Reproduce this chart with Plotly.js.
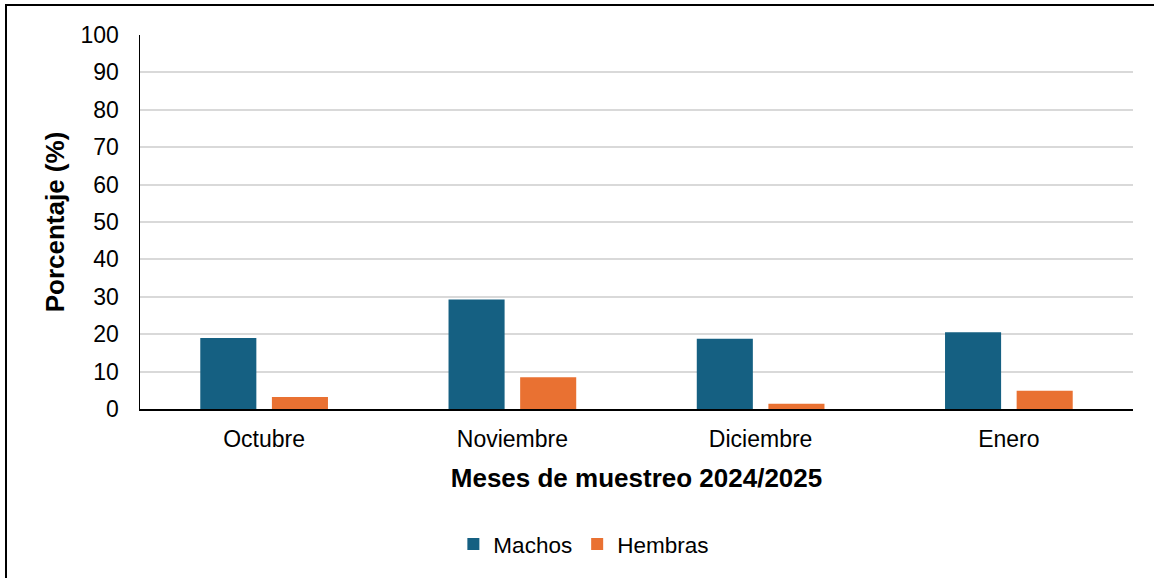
<!DOCTYPE html>
<html>
<head>
<meta charset="utf-8">
<script src="https://cdn.plot.ly/plotly-3.0.1.min.js"></script>
<style>
  html, body { margin: 0; padding: 0; background: #fff; }
  #wrap { position: relative; width: 1154px; height: 578px; overflow: hidden; }
  #chart { width: 1154px; height: 578px; }
  #frame { position: absolute; left: 5px; top: 4px; width: 1200px; height: 700px;
           border-top: 2px solid #000; border-left: 2px solid #000; pointer-events: none; }
</style>
</head>
<body>
<div id="wrap">
  <div id="chart"></div>
  <div id="frame"></div>
</div>
<script>
const categories = ["Octubre", "Noviembre", "Diciembre", "Enero"];
const machos = [19.0, 29.3, 18.8, 20.5];
const hembras = [3.2, 8.5, 1.4, 4.9];
const yTicks = [0, 10, 20, 30, 40, 50, 60, 70, 80, 90, 100];

const FONT = "Liberation Sans, Arial, sans-serif";

const traces = [
  { type: "bar", name: "Machos", x: categories, y: machos,
    marker: { color: "#156082" }, hoverinfo: "y" },
  { type: "bar", name: "Hembras", x: categories, y: hembras,
    marker: { color: "#E97132" }, hoverinfo: "y" }
];

const layout = {
  width: 1154, height: 578,
  margin: { l: 140, r: 21, t: 35, b: 168.5, pad: 0 },
  paper_bgcolor: "#fff", plot_bgcolor: "#fff",
  barmode: "group", bargap: 0.423, bargroupgap: 0.217,
  font: { family: FONT, color: "#000", size: 23 },
  showlegend: true,
  legend: { orientation: "h", x: 0.447, xanchor: "center", y: -0.362, yanchor: "middle",
            font: { size: 22.5, family: FONT }, itemwidth: 30, traceorder: "normal" },
  xaxis: {
    type: "category",
    showline: true, linecolor: "#000", linewidth: 2,
    ticks: "outside", ticklen: 8, tickcolor: "rgba(0,0,0,0)",
    tickfont: { size: 23, family: FONT },
    showgrid: false, zeroline: false,
    title: { text: "<b>Meses de muestreo 2024/2025</b>", font: { size: 26, family: FONT }, standoff: 18 }
  },
  yaxis: {
    range: [0, 100], tickvals: yTicks, ticktext: yTicks.map(String),
    showline: true, linecolor: "#000", linewidth: 1.5,
    ticks: "outside", ticklen: 15, tickcolor: "rgba(0,0,0,0)",
    tickfont: { size: 23, family: FONT },
    showgrid: true, gridcolor: "#D9D9D9", gridwidth: 2,
    zeroline: false,
    title: { text: "<b>Porcentaje (%)</b>", font: { size: 26, family: FONT }, standoff: 8 }
  }
};

Plotly.newPlot("chart", traces, layout, { displayModeBar: false, staticPlot: true });
</script>
</body>
</html>
